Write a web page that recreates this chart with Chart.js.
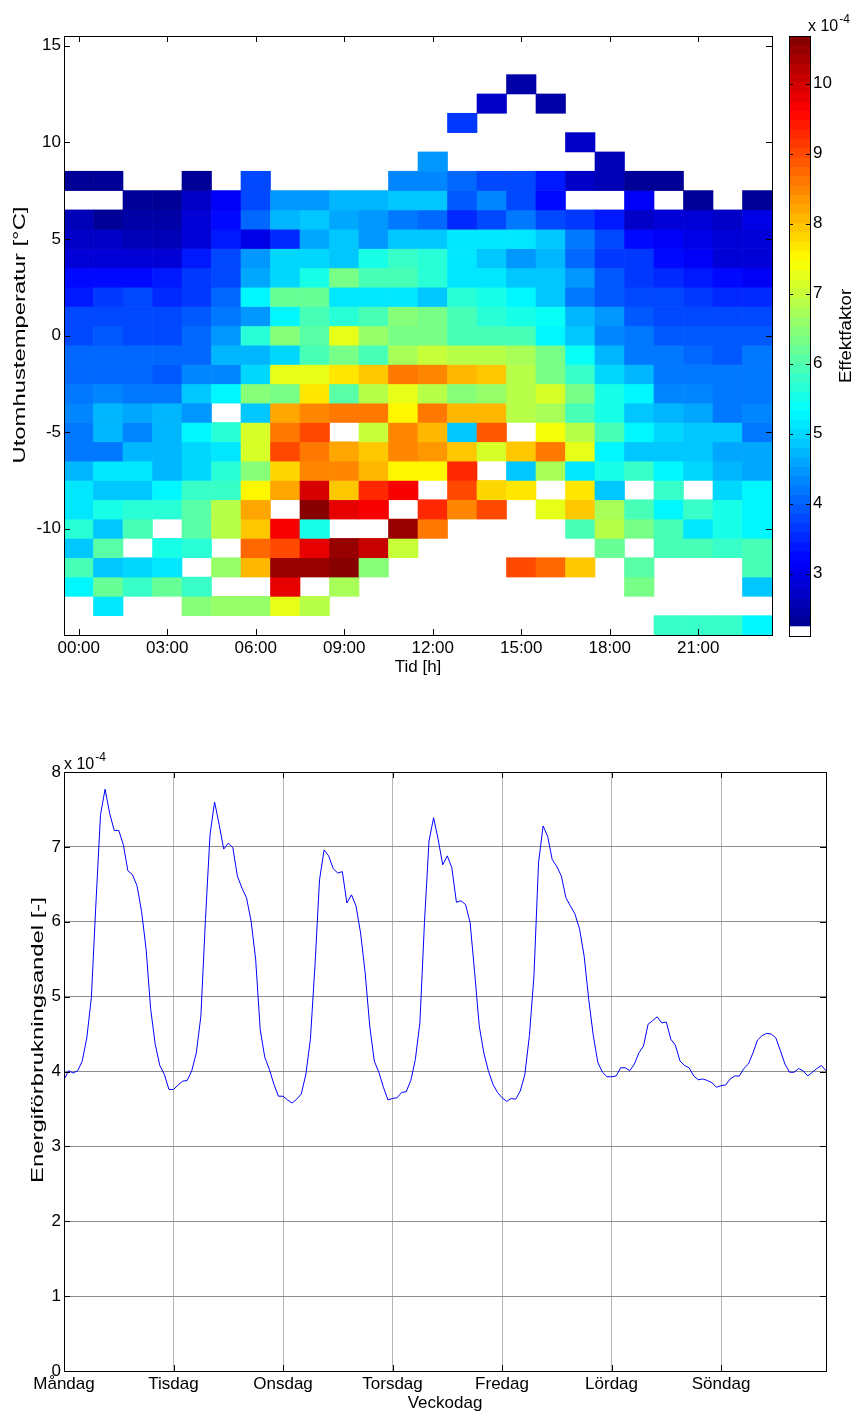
<!DOCTYPE html>
<html>
<head>
<meta charset="utf-8">
<script src="https://cdn.jsdelivr.net/npm/chart.js@4.4.0/dist/chart.umd.min.js"></script>
<style>
html, body { margin: 0; padding: 0; background: #fff; }
body { width: 856px; height: 1414px; position: relative; overflow: hidden; }
canvas { position: absolute; }
#heat { left: 0; top: 0; }
#cbar { left: 780px; top: 0; }
#line { left: 0; top: 740px; }
</style>
</head>
<body>
<canvas id="heat" width="780" height="700"></canvas>
<canvas id="cbar" width="76" height="700"></canvas>
<canvas id="line" width="856" height="674"></canvas>
<script>
// hours on the x axis of the heatmap
var hourLabels = ['00:00', '01:00', '02:00', '03:00', '04:00', '05:00', '06:00', '07:00',
	'08:00', '09:00', '10:00', '11:00', '12:00', '13:00', '14:00', '15:00',
	'16:00', '17:00', '18:00', '19:00', '20:00', '21:00', '22:00', '23:00'];
var hourTicks = [0, 3, 6, 9, 12, 15, 18, 21];

// outdoor temperature rows, top to bottom
var temperatures = [15, 14, 13, 12, 11, 10, 9, 8, 7, 6, 5, 4, 3, 2, 1, 0,
	-1, -2, -3, -4, -5, -6, -7, -8, -9, -10, -11, -12, -13, -14, -15];
var tempTicks = [-10, -5, 0, 5, 10, 15];

// effektfaktor (x 1e-4) per temperature row and hour, null = no data
var effektfaktor = [
	/* 15 */ [null, null, null, null, null, null, null, null, null, null, null, null, null, null, null, null, null, null, null, null, null, null, null, null],
	/* 14 */ [null, null, null, null, null, null, null, null, null, null, null, null, null, null, null, null, null, null, null, null, null, null, null, null],
	/* 13 */ [null, null, null, null, null, null, null, null, null, null, null, null, null, null, null, 2.43, null, null, null, null, null, null, null, null],
	/* 12 */ [null, null, null, null, null, null, null, null, null, null, null, null, null, null, 2.75, null, 2.43, null, null, null, null, null, null, null],
	/* 11 */ [null, null, null, null, null, null, null, null, null, null, null, null, null, 3.61, null, null, null, null, null, null, null, null, null, null],
	/* 10 */ [null, null, null, null, null, null, null, null, null, null, null, null, null, null, null, null, null, 2.75, null, null, null, null, null, null],
	/*  9 */ [null, null, null, null, null, null, null, null, null, null, null, null, 4.47, null, null, null, null, null, 2.54, null, null, null, null, null],
	/*  8 */ [2.3, 2.3, null, null, 2.3, null, 3.82, null, null, null, null, 4.36, 4.36, 4.04, 3.82, 3.72, 3.39, 2.65, 2.54, 2.32, 2.3, null, null, null],
	/*  7 */ [null, null, 2.32, 2.32, 2.75, 3.07, 3.82, 4.47, 4.47, 4.68, 4.68, 4.89, 4.79, 3.93, 4.36, 3.72, 3.29, null, null, 3.18, null, 2.32, null, 2.3],
	/*  6 */ [2.54, 2.32, 2.43, 2.43, 2.86, 3.29, 4.04, 4.68, 4.89, 4.57, 4.47, 4.14, 4.04, 3.5, 3.82, 4.14, 3.82, 3.61, 3.39, 2.75, 2.86, 2.86, 2.75, 2.97],
	/*  5 */ [2.75, 2.75, 2.54, 2.54, 2.86, 3.39, 2.97, 3.5, 4.57, 4.89, 4.47, 4.79, 4.89, 5.11, 5.11, 5.11, 4.79, 4.25, 3.82, 3.29, 3.18, 2.97, 2.86, 2.86],
	/*  4 */ [2.86, 2.86, 2.86, 2.86, 3.39, 3.82, 4.47, 5.0, 5.0, 4.89, 5.53, 5.75, 5.64, 5.11, 4.89, 4.47, 4.68, 4.04, 3.61, 3.61, 3.29, 3.07, 2.86, 2.86],
	/*  3 */ [3.29, 3.29, 3.29, 3.39, 3.61, 3.82, 4.57, 5.0, 5.53, 6.28, 5.86, 5.86, 5.64, 5.11, 5.11, 4.89, 4.79, 4.47, 3.93, 3.61, 3.5, 3.39, 3.29, 3.18],
	/*  2 */ [3.39, 3.61, 3.72, 3.5, 3.61, 4.04, 5.21, 6.18, 6.18, 5.11, 5.11, 5.11, 4.79, 5.64, 5.53, 5.21, 4.79, 4.25, 3.93, 3.72, 3.72, 3.61, 3.5, 3.5],
	/*  1 */ [3.72, 3.72, 3.72, 3.82, 3.93, 4.14, 4.47, 5.32, 5.96, 5.64, 5.96, 6.5, 6.28, 5.96, 5.64, 5.53, 5.43, 4.68, 4.47, 3.93, 3.82, 3.82, 3.72, 3.72],
	/*  0 */ [3.72, 3.93, 3.72, 3.82, 4.04, 4.4, 5.64, 6.5, 6.07, 7.25, 6.61, 6.28, 6.28, 5.96, 5.96, 5.96, 5.25, 4.89, 4.36, 4.2, 3.88, 3.88, 3.88, 3.88],
	/* -1 */ [4.04, 4.04, 4.04, 4.04, 4.04, 4.68, 4.68, 5.0, 5.96, 6.39, 5.96, 6.71, 7.03, 6.93, 6.93, 6.71, 6.39, 5.43, 4.68, 4.25, 4.25, 4.04, 3.93, 4.14],
	/* -2 */ [4.04, 4.04, 4.04, 3.93, 4.36, 4.36, 5.0, 7.25, 7.25, 7.68, 8.0, 8.54, 8.43, 8.11, 7.9, 6.82, 6.39, 5.75, 5.0, 4.68, 4.25, 4.25, 4.14, 4.14],
	/* -3 */ [4.14, 4.36, 4.14, 4.25, 4.79, 5.21, 6.5, 6.28, 7.68, 6.07, 6.82, 7.25, 6.93, 6.5, 6.61, 6.93, 7.14, 6.28, 5.53, 5.21, 4.36, 4.36, 4.25, 4.14],
	/* -4 */ [4.36, 4.68, 4.57, 4.68, 4.47, null, 4.79, 8.22, 8.43, 8.65, 8.54, 7.57, 8.65, 8.11, 8.11, 6.82, 6.71, 5.96, 5.53, 4.79, 4.68, 4.57, 4.25, 4.36],
	/* -5 */ [4.25, 4.68, 4.36, 4.68, 5.21, 5.64, 7.14, 8.54, 9.07, null, 7.03, 8.43, 8.11, 4.79, 8.86, null, 7.46, 6.93, 5.96, 5.32, 5.0, 4.79, 4.79, 4.14],
	/* -6 */ [4.25, 4.25, 4.68, 4.68, 5.0, 5.11, 7.14, 8.97, 8.54, 8.22, 8.0, 8.43, 8.32, 7.9, 7.14, 8.0, 8.54, 7.25, 5.32, 4.89, 4.89, 4.79, 4.57, 4.57],
	/* -7 */ [4.68, 5.11, 5.11, 4.68, 5.0, 5.64, 6.5, 7.79, 8.43, 8.43, 8.11, 7.57, 7.57, 9.29, null, 4.79, 6.71, 5.11, 5.53, 5.75, 5.32, 5.0, 4.68, 4.57],
	/* -8 */ [5.11, 4.89, 4.79, 5.32, 5.75, 5.75, 7.57, 8.22, 9.93, 7.9, 9.29, 9.61, null, 8.97, 7.79, 7.68, null, 7.68, 4.89, null, 5.75, null, 5.0, 5.21],
	/* -9 */ [5.11, 5.53, 5.64, 5.64, 6.07, 6.82, 8.22, null, 10.6, 9.82, 9.61, null, 9.29, 8.43, 8.97, null, 7.25, 7.9, 6.71, 5.86, 5.32, 5.75, 5.53, 5.21],
	/* -10 */ [5.64, 4.89, 5.96, null, 6.07, 6.82, 7.9, 9.61, 5.53, null, null, 10.46, 8.54, null, null, null, null, 5.96, 6.82, 6.39, 5.96, 5.11, 5.53, 5.32],
	/* -11 */ [4.79, 6.07, null, 5.53, 5.64, null, 8.75, 9.07, 9.82, 10.46, 10.04, 7.03, null, null, null, null, null, null, 6.18, null, 5.96, 5.96, 5.75, 5.86],
	/* -12 */ [5.96, 4.79, 5.0, 5.11, null, 6.61, 8.11, 10.46, 10.46, 10.6, 6.5, null, null, null, null, 9.07, 8.75, 7.9, null, 6.07, null, null, null, 5.86],
	/* -13 */ [5.32, 6.18, 5.75, 6.18, 5.75, null, null, 9.82, null, 6.71, null, null, null, null, null, null, null, null, null, 6.28, null, null, null, 4.89],
	/* -14 */ [null, 5.11, null, null, 6.5, 6.61, 6.61, 7.25, 6.82, null, null, null, null, null, null, null, null, null, null, null, null, null, null, null],
	/* -15 */ [null, null, null, null, null, null, null, null, null, null, null, null, null, null, null, null, null, null, null, null, 5.75, 5.75, 5.75, 5.32]
];

// colour scale (x 1e-4)
var cMin = 2.11;
var cMax = 10.68;
var cTicks = [3, 4, 5, 6, 7, 8, 9, 10];

// hourly share of weekly energy use (x 1e-4), Monday 00:00 onwards
var weekdays = ['Måndag', 'Tisdag', 'Onsdag', 'Torsdag', 'Fredag', 'Lördag', 'Söndag'];
var dayTicks = [0, 24, 48, 72, 96, 120, 144];
var energyShare = [
	3.89, 4.01, 3.98, 4.01, 4.14, 4.45, 4.99, 6.25, 7.43, 7.77,
	7.45, 7.22, 7.22, 7.03, 6.68, 6.63, 6.48, 6.14, 5.63, 4.83,
	4.36, 4.08, 3.96, 3.76, 3.76, 3.82, 3.87, 3.88, 4.01, 4.25,
	4.74, 6.03, 7.16, 7.6, 7.3, 6.97, 7.05, 6.99, 6.61, 6.45,
	6.32, 6.01, 5.5, 4.56, 4.19, 4.03, 3.83, 3.67, 3.67, 3.62,
	3.58, 3.63, 3.7, 3.96, 4.43, 5.41, 6.56, 6.96, 6.88, 6.71,
	6.65, 6.67, 6.25, 6.36, 6.21, 5.85, 5.32, 4.61, 4.14, 3.99,
	3.79, 3.62, 3.64, 3.65, 3.72, 3.73, 3.88, 4.16, 4.65, 5.99,
	7.08, 7.39, 7.10, 6.76, 6.88, 6.72, 6.26, 6.28, 6.23, 5.99,
	5.32, 4.61, 4.25, 4.01, 3.83, 3.72, 3.65, 3.6, 3.64, 3.63,
	3.74, 3.96, 4.48, 5.28, 6.79, 7.28, 7.14, 6.83, 6.74, 6.61,
	6.32, 6.21, 6.10, 5.9, 5.54, 4.96, 4.48, 4.12, 3.99, 3.93,
	3.93, 3.94, 4.05, 4.05, 4.01, 4.10, 4.25, 4.34, 4.63, 4.68,
	4.73, 4.65, 4.66, 4.43, 4.35, 4.14, 4.08, 4.05, 3.94, 3.89,
	3.9, 3.88, 3.85, 3.79, 3.81, 3.82, 3.9, 3.94, 3.94, 4.04,
	4.1, 4.25, 4.42, 4.48, 4.51, 4.50, 4.45, 4.28, 4.10, 3.99,
	3.99, 4.04, 4.01, 3.94, 3.99, 4.04, 4.08, 4.01
];

var FONT = '"Liberation Sans", Arial, Helvetica, sans-serif';
Chart.defaults.font.family = FONT;
Chart.defaults.font.size = 17;
Chart.defaults.color = '#000';
Chart.defaults.animation = false;
Chart.defaults.responsive = false;
Chart.defaults.events = [];
Chart.defaults.plugins.legend.display = false;
Chart.defaults.plugins.tooltip.enabled = false;

// matlab style jet colormap, 64 levels, first level white
function jet(t) {
	var r = Math.min(1, Math.max(0, 1.5 - Math.abs(4 * t - 3)));
	var g = Math.min(1, Math.max(0, 1.5 - Math.abs(4 * t - 2)));
	var b = Math.min(1, Math.max(0, 1.5 - Math.abs(4 * t - 1)));
	return 'rgb(' + Math.round(r * 255) + ',' + Math.round(g * 255) + ',' + Math.round(b * 255) + ')';
}
function levelColor(i) {
	return i === 0 ? '#ffffff' : jet((i + 0.5) / 64);
}
function valueColor(v) {
	var i = Math.floor((v - cMin) / (cMax - cMin) * 64);
	return levelColor(Math.max(1, Math.min(63, i)));
}

// box around the plot area and inward tick marks on all four sides
var frame = {
	id: 'frame',
	afterDraw: function (chart, args, opts) {
		var a = chart.chartArea, ctx = chart.ctx, len = opts.len || 5;
		ctx.save();
		ctx.strokeStyle = '#000';
		ctx.lineWidth = 1;
		ctx.beginPath();
		(opts.xTicks || []).forEach(function (v) {
			var x = Math.round(chart.scales.x.getPixelForValue(v)) + 0.5;
			ctx.moveTo(x, a.bottom); ctx.lineTo(x, a.bottom - len);
			ctx.moveTo(x, a.top); ctx.lineTo(x, a.top + len);
		});
		(opts.yTicks || []).forEach(function (v) {
			var y = Math.round(chart.scales.y.getPixelForValue(v)) + 0.5;
			ctx.moveTo(a.left, y); ctx.lineTo(a.left + len, y);
			ctx.moveTo(a.right, y); ctx.lineTo(a.right - len, y);
		});
		ctx.stroke();
		ctx.strokeRect(Math.round(a.left) + 0.5, Math.round(a.top) + 0.5,
			Math.round(a.right - a.left), Math.round(a.bottom - a.top));
		ctx.restore();
	}
};

// free text: multiplier labels and the rotated axis labels
var notes = {
	id: 'notes',
	afterDraw: function (chart, args, opts) {
		var ctx = chart.ctx;
		(opts.items || []).forEach(function (it) {
			ctx.save();
			ctx.translate(it.x, it.y);
			if (it.rotate) ctx.rotate(it.rotate);
			if (it.stretch) ctx.scale(it.stretch, 1);
			ctx.fillStyle = '#000';
			ctx.textAlign = it.align || 'left';
			ctx.textBaseline = it.baseline || 'alphabetic';
			ctx.font = (it.size || 17) + 'px ' + FONT;
			ctx.fillText(it.text, 0, 0);
			if (it.sup) {
				var w = ctx.measureText(it.text).width;
				ctx.font = '12px ' + FONT;
				ctx.fillText(it.sup, w + 1, -8);
			}
			ctx.restore();
		});
	}
};

// heatmap: one floating bar dataset per temperature row
var heatSets = temperatures.map(function (temp, r) {
	var row = effektfaktor[r];
	return {
		data: row.map(function (v) { return v === null ? null : [temp - 0.5, temp + 0.5]; }),
		backgroundColor: row.map(function (v) { return v === null ? 'rgba(0,0,0,0)' : valueColor(v); }),
		borderWidth: 0,
		barPercentage: 1,
		categoryPercentage: 1,
		grouped: false
	};
});

new Chart(document.getElementById('heat'), {
	type: 'bar',
	data: { labels: hourLabels, datasets: heatSets },
	options: {
		layout: { padding: { top: 36, right: 8, left: 0, bottom: 0 } },
		plugins: {
			frame: { xTicks: hourTicks, yTicks: tempTicks, len: 6 },
			notes: { items: [
				{ text: 'Utomhustemperatur [°C]', x: 20, y: 335, rotate: -Math.PI / 2, stretch: 1.4, align: 'center', baseline: 'middle' }
			] }
		},
		scales: {
			x: {
				grid: { display: false, drawTicks: false },
				border: { display: false },
				ticks: {
					autoSkip: false, maxRotation: 0, padding: 3,
					callback: function (v, i) { return hourTicks.indexOf(i) >= 0 ? hourLabels[i] : ''; }
				},
				title: { display: true, text: 'Tid [h]', padding: { top: 0, bottom: 22 } },
				afterFit: function (s) { s.height = 65; }
			},
			y: {
				min: -15.5,
				max: 15.5,
				grid: { display: false, drawTicks: false },
				border: { display: false },
				afterBuildTicks: function (s) { s.ticks = tempTicks.map(function (v) { return { value: v }; }); },
				ticks: { padding: 3 },
				afterFit: function (s) { s.width = 64; }
			}
		}
	},
	plugins: [frame, notes]
});

// colorbar: stacked bands, lowest band drawn last so edges stay clean
var bandSets = [];
for (var i = 0; i < 64; i++) {
	bandSets.push({
		data: [[cMin, cMin + (i + 1) * (cMax - cMin) / 64]],
		backgroundColor: levelColor(i),
		borderWidth: 0,
		barPercentage: 1,
		categoryPercentage: 1,
		grouped: false
	});
}

new Chart(document.getElementById('cbar'), {
	type: 'bar',
	data: { labels: [''], datasets: bandSets },
	options: {
		layout: { padding: { top: 36, left: 9, right: 0, bottom: 64 } },
		plugins: {
			frame: { yTicks: cTicks, len: 4 },
			notes: { items: [
				{ text: 'x 10', x: 28, y: 31, size: 16, sup: '-4' },
				{ text: 'Effektfaktor', x: 66, y: 336, rotate: -Math.PI / 2, stretch: 1.1, align: 'center', baseline: 'middle' }
			] }
		},
		scales: {
			x: { display: false },
			y: {
				position: 'right',
				min: cMin,
				max: cMax,
				grid: { display: false, drawTicks: false },
				border: { display: false },
				afterBuildTicks: function (s) { s.ticks = cTicks.map(function (v) { return { value: v }; }); },
				ticks: { padding: 3 },
				afterFit: function (s) { s.width = 46; }
			}
		}
	},
	plugins: [frame, notes]
});

// weekly profile
new Chart(document.getElementById('line'), {
	type: 'line',
	data: {
		datasets: [{
			data: energyShare.map(function (v, h) { return { x: h, y: v }; }),
			borderColor: '#0000ff',
			borderWidth: 1,
			pointRadius: 0,
			tension: 0,
			fill: false
		}]
	},
	options: {
		layout: { padding: { top: 32, right: 30, left: 0, bottom: 0 } },
		plugins: {
			frame: { xTicks: dayTicks, yTicks: [0, 1, 2, 3, 4, 5, 6, 7, 8], len: 6 },
			notes: { items: [
				{ text: 'x 10', x: 64, y: 29, size: 16, sup: '-4' },
				{ text: 'Energiförbrukningsandel [-]', x: 38, y: 300, rotate: -Math.PI / 2, stretch: 1.4, align: 'center', baseline: 'middle' }
			] }
		},
		scales: {
			x: {
				type: 'linear',
				min: 0,
				max: 167,
				grid: { color: '#b4b4b4', drawTicks: false },
				border: { display: false },
				afterBuildTicks: function (s) { s.ticks = dayTicks.map(function (v) { return { value: v }; }); },
				ticks: {
					padding: 3, maxRotation: 0, autoSkip: false,
					callback: function (v) { return weekdays[Math.round(v / 24)]; }
				},
				title: { display: true, text: 'Veckodag', padding: { top: 0, bottom: 0 } },
				afterFit: function (s) { s.height = 43; }
			},
			y: {
				min: 0,
				max: 8,
				grid: { color: '#8c8c8c', drawTicks: false },
				border: { display: false },
				ticks: { stepSize: 1, padding: 3 },
				afterFit: function (s) { s.width = 64; }
			}
		}
	},
	plugins: [frame, notes]
});
</script>
</body>
</html>
